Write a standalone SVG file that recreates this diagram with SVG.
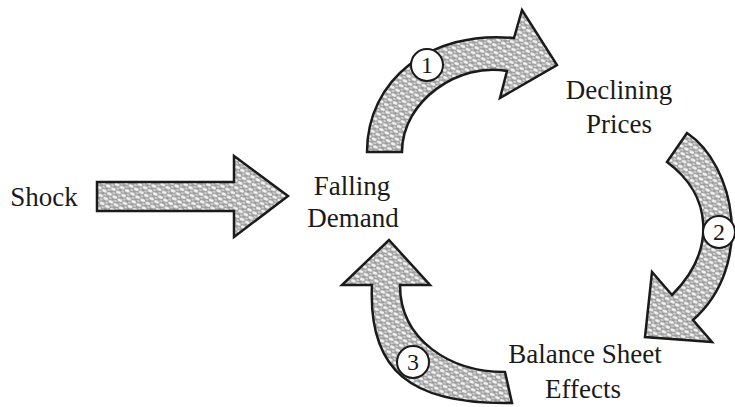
<svg xmlns="http://www.w3.org/2000/svg" width="735" height="407" viewBox="0 0 735 407">
<style>
.lbl{font-family:"Liberation Serif","Times New Roman",serif;font-size:27px;fill:#1a1a1a;text-anchor:middle}
.arr{fill:url(#weave);stroke:#1a1a1a;stroke-width:2.5;stroke-linejoin:miter}
.badge{fill:#fff;stroke:#1a1a1a;stroke-width:2}
.num{font-family:"Liberation Serif","Times New Roman",serif;font-size:24px;fill:#1a1a1a;text-anchor:middle}
</style>
<defs>
<pattern id="weave" width="9" height="8" patternUnits="userSpaceOnUse" patternTransform="rotate(-10)">
<rect width="9" height="8" fill="#9c9c9c"/>
<ellipse cx="2.25" cy="2" rx="2.6" ry="1.5" fill="#f4f4f4" transform="rotate(30 2.25 2)"/>
<ellipse cx="6.75" cy="6" rx="2.6" ry="1.5" fill="#f4f4f4" transform="rotate(30 6.75 6)"/>
<ellipse cx="6.75" cy="2" rx="1.6" ry="1" fill="#d8d8d8" transform="rotate(30 6.75 2)"/>
<ellipse cx="2.25" cy="6" rx="1.6" ry="1" fill="#d8d8d8" transform="rotate(30 2.25 6)"/>
</pattern>
</defs>
<g id="connectors">
<path id="arrow-shock" class="arr" d="M97,182 L234,182 L234,156 L288,196 L234,237 L234,211 L97,211 Z"/>
<path id="arrow-1" class="arr" d="M367,152 C367,80 430,30 514,38 L522,10 L557,65 L500,98 L507,71 C460,62 402,100 402,152 Z"/>
<path id="arrow-2" class="arr" d="M687,133 C735,165 755,265 693,320 L712,342 L645,337 L652,272 L672,295 C717,250 712,195 667,162 Z"/>
<path id="arrow-3" class="arr" d="M400,285 L430,285 L389,240 L342,285 L372,285 C368,370 410,405 512,403 L505,372 C450,372 400,340 400,285 Z"/>
<g id="badge-1"><circle class="badge" cx="427" cy="65" r="16"/><text class="num" x="427" y="73">1</text></g>
<g id="badge-2"><circle class="badge" cx="719" cy="232" r="16"/><text class="num" x="719" y="240">2</text></g>
<g id="badge-3"><circle class="badge" cx="413" cy="362" r="16"/><text class="num" x="413" y="370">3</text></g>
</g>
<g id="node-shock"><text class="lbl" x="44" y="206">Shock</text></g>
<g id="node-falling-demand"><text class="lbl" x="352" y="195">Falling</text><text class="lbl" x="353" y="227">Demand</text></g>
<g id="node-declining-prices"><text class="lbl" x="619" y="99">Declining</text><text class="lbl" x="619" y="133">Prices</text></g>
<g id="node-balance-sheet"><text class="lbl" x="585" y="363">Balance Sheet</text><text class="lbl" x="583" y="398">Effects</text></g>
</svg>
